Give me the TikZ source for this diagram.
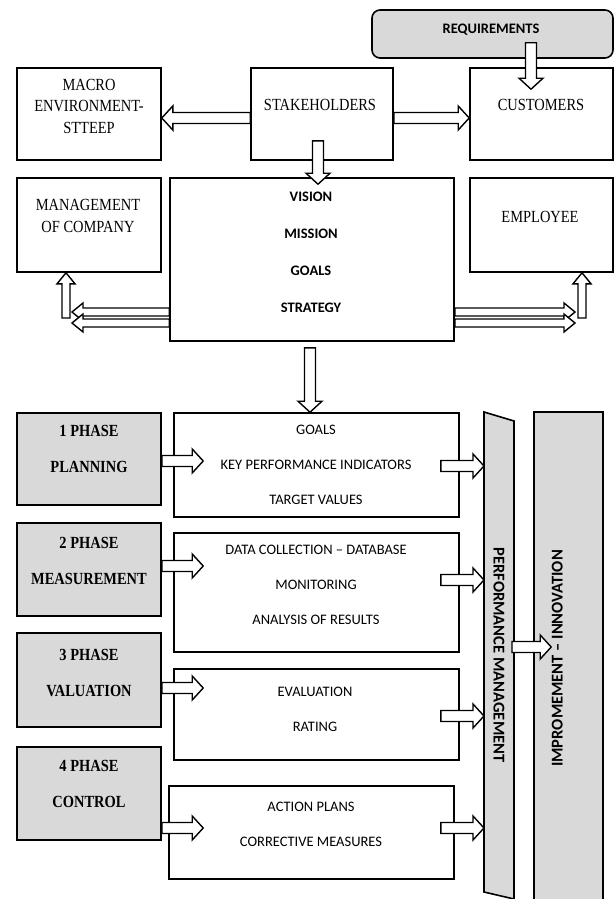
\documentclass[tikz,border=0pt]{standalone}
\usepackage{fontspec}
\usepackage{graphicx}
\usetikzlibrary{calc,backgrounds}
\newfontfamily\timesc{Liberation Serif}[FakeStretch=0.85]
\newfontfamily\calib{Carlito}
\definecolor{boxgray}{HTML}{D9D9D9}

\begin{document}
\begin{tikzpicture}[
    x=1pt, y=-1pt,
    box/.style 2 args={draw, line width=1.6pt, inner sep=0pt, minimum width=#1, minimum height=#2},
    phase/.style 2 args={box={#1}{#2}, fill=boxgray},
    serif/.style={font=\timesc\fontsize{17}{21.5}\selectfont, align=center, inner sep=0pt},
    phasetext/.style={font=\timesc\bfseries\fontsize{17}{36}\selectfont, align=center, inner sep=0pt},
    sans/.style={font=\calib\fontsize{14.5}{35}\selectfont, align=center, inner sep=0pt},
    sansbold/.style={font=\calib\bfseries\fontsize{14.5}{37}\selectfont, align=center, inner sep=0pt},
    bartext/.style={font=\calib\bfseries\fontsize{16.5}{20}\selectfont, inner sep=0pt},
    hollow/.style n args={3}{draw, fill=white, line width=1.4pt, line join=miter,
      to path={let \p1=(\tikztostart), \p2=(\tikztotarget) in
        ($(\p1)!#1!90:(\p2)$) -- ($(\p2)!#3!(\p1)!#1!-90:(\p1)$)
        -- ($(\p2)!#3!(\p1)!#2!-90:(\p1)$) -- (\p2)
        -- ($(\p2)!#3!(\p1)!#2!90:(\p1)$) -- ($(\p2)!#3!(\p1)!#1!90:(\p1)$)
        -- ($(\p1)!#1!-90:(\p2)$) -- cycle}},
    bigarrow/.style={hollow={5.5pt}{12pt}{11pt}},
    slimarrow/.style={hollow={4pt}{9pt}{11pt}}
]
    \useasboundingbox (0,0) rectangle (614,899);

    % Top part
    \node[phase={241pt}{48pt}, rounded corners=8pt] (req) at (492.5,34) {};
    \node[box={144pt}{92pt}] (macro) at (89,114) {};
    \node[box={142pt}{92pt}] (stake) at (322,114) {};
    \node[box={143pt}{92pt}] (cust) at (541.5,114) {};
    \node[box={144pt}{94pt}] (mgmt) at (89,225) {};
    \node[box={284pt}{163pt}] (vision) at (312,259.5) {};
    \node[box={143pt}{94pt}] (emp) at (541.5,225) {};

    % Phases
    \node[phase={144pt}{92pt}] (p1) at (89,459) {};
    \node[phase={144pt}{93pt}] (p2) at (89,569.5) {};
    \node[phase={144pt}{94pt}] (p3) at (89,680) {};
    \node[phase={144pt}{93pt}] (p4) at (89,793.5) {};
    \node[box={285pt}{104pt}] (goals) at (316.5,465) {};
    \node[box={285pt}{119pt}] (data) at (316.5,592.5) {};
    \node[box={285pt}{91pt}] (eval) at (316.5,714.5) {};
    \node[box={285pt}{93pt}] (action) at (311.5,832.5) {};

    % Side bars
    \node[bartext, minimum width=30pt, minimum height=480pt, outer sep=0pt] (pm) at (499,655)
        {\rotatebox{-90}{PERFORMANCE MANAGEMENT}};
    \begin{scope}[on background layer]
        \draw[line width=1.6pt, fill=boxgray] ([yshift=3pt]pm.north west) -- ([yshift=-6pt]pm.north east)
            -- ([yshift=-4pt]pm.south east) -- ([yshift=3pt]pm.south west) -- cycle;
    \end{scope}
    \node[phase={69pt}{493pt}, bartext] (imp) at (568.5,658.5)
        {\rotatebox{90}{\raisebox{6pt}[0pt][0pt]{IMPROMEMENT – INNOVATION}}};

    % Arrows
    \coordinate (reqarr) at ([xshift=38.5pt]req.south);
    \coordinate (mgmtup) at (66,318);
    \coordinate (empup) at (582,318);
    \draw[bigarrow] ([yshift=-4pt]stake.west) to ([yshift=-4pt]macro.east);
    \draw[bigarrow] ([yshift=-4pt]stake.east) to ([yshift=-4pt]cust.west);
    \draw[bigarrow] ([yshift=16pt]reqarr) to ([yshift=-22pt]reqarr |- cust.north);
    \draw[bigarrow] ([xshift=-4pt,yshift=20pt]stake.south) to ([xshift=-4pt,yshift=-7pt]stake.south |- vision.north);
    \draw[slimarrow] (mgmtup) to (mgmtup |- mgmt.south);
    \draw[slimarrow] ([yshift=6pt]vision.west |- mgmtup) to ([xshift=6pt,yshift=6pt]mgmtup);
    \draw[slimarrow] ([yshift=-5pt]vision.west |- mgmtup) to ([xshift=6pt,yshift=-5pt]mgmtup);
    \draw[slimarrow] (empup) to (empup |- emp.south);
    \draw[slimarrow] ([yshift=6pt]vision.east |- empup) to ([xshift=-7pt,yshift=6pt]empup);
    \draw[slimarrow] ([yshift=-5pt]vision.east |- empup) to ([xshift=-7pt,yshift=-5pt]empup);
    \draw[bigarrow] ([xshift=-2pt,yshift=-6pt]vision.south) to ([xshift=-2pt]vision.south |- goals.north);
    \draw[bigarrow] ([yshift=-2pt]p1.east) to ([xshift=30pt,yshift=-2pt]p1.east -| goals.west);
    \draw[bigarrow] ([yshift=3.5pt]p2.east) to ([xshift=30pt,yshift=3.5pt]p2.east -| data.west);
    \draw[bigarrow] ([yshift=-8pt]p3.east) to ([xshift=30pt,yshift=-8pt]p3.east -| eval.west);
    \draw[bigarrow] ([yshift=-34.5pt]p4.east) to ([xshift=35pt,yshift=-34.5pt]p4.east -| action.west);
    \draw[bigarrow] ([xshift=-19pt,yshift=-1pt]goals.east) to ([yshift=-1pt]goals.east -| pm.west);
    \draw[bigarrow] ([xshift=-19pt,yshift=12.5pt]data.east) to ([yshift=12.5pt]data.east -| pm.west);
    \draw[bigarrow] ([xshift=-19pt,yshift=-1.5pt]eval.east) to ([yshift=-1.5pt]eval.east -| pm.west);
    \draw[bigarrow] ([xshift=-14pt,yshift=4.5pt]action.east) to ([yshift=4.5pt]action.east -| pm.west);
    \draw[bigarrow] ([xshift=-2pt,yshift=8pt]pm.east) to ([xshift=18pt,yshift=8pt]pm.east -| imp.west);

    % Texts
    \node[sansbold] (reqtext) at (491,30) {REQUIREMENTS};
    \node[serif] (macrotext) at (89,106) {MACRO\\ENVIRONMENT-\\STTEEP};
    \node[serif] (staketext) at (320,105) {STAKEHOLDERS};
    \node[serif] (custtext) at (541,105) {CUSTOMERS};
    \node[serif] (mgmttext) at (88,216) {MANAGEMENT\\OF COMPANY};
    \node[serif] (emptext) at (540,217) {EMPLOYEE};
    \node[sansbold] (visiontext) at (311,252.5) {VISION\\MISSION\\GOALS\\STRATEGY};
    \node[phasetext] (p1text) at (89,449) {1 PHASE\\PLANNING};
    \node[phasetext] (p2text) at (89,560.5) {2 PHASE\\MEASUREMENT};
    \node[phasetext] (p3text) at (89,672.5) {3 PHASE\\VALUATION};
    \node[phasetext] (p4text) at (89,784) {4 PHASE\\CONTROL};
    \node[sans] (goalstext) at (316,464.5) {GOALS\\KEY PERFORMANCE INDICATORS\\TARGET VALUES};
    \node[sans] (datatext) at (316,585) {DATA COLLECTION – DATABASE\\MONITORING\\ANALYSIS OF RESULTS};
    \node[sans] (evaltext) at (315,709) {EVALUATION\\RATING};
    \node[sans] (actiontext) at (311,824.5) {ACTION PLANS\\CORRECTIVE MEASURES};
\end{tikzpicture}
\end{document}
